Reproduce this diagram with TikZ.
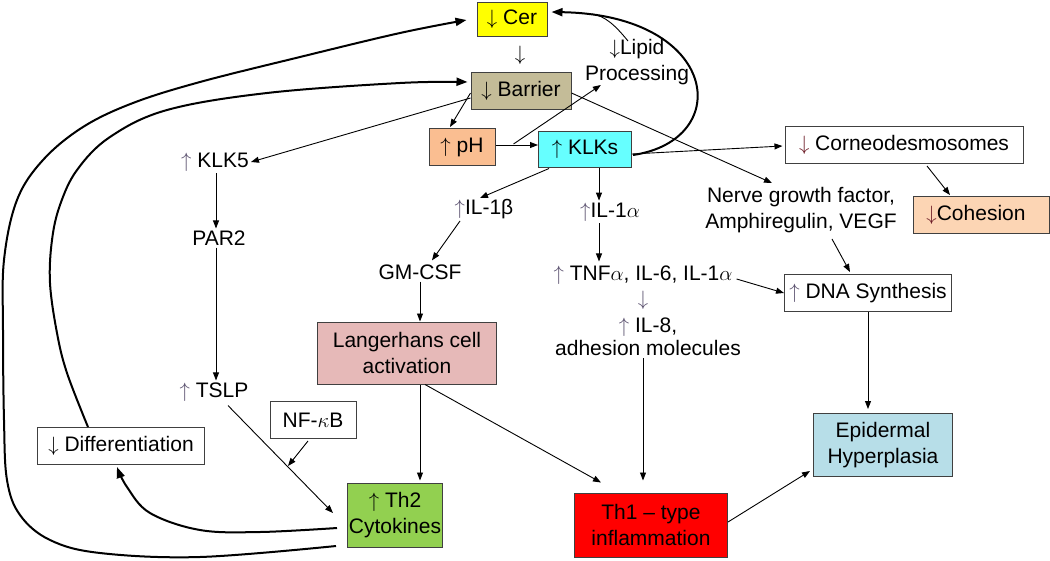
\documentclass[tikz,border=0pt]{standalone}
\usepackage{fontspec}
\setmainfont{Liberation Sans}
\usetikzlibrary{arrows.meta,calc}
\definecolor{cerY}{RGB}{255,255,0}
\definecolor{barT}{RGB}{196,188,152}
\definecolor{phP}{RGB}{250,190,145}
\definecolor{klkC}{RGB}{102,255,255}
\definecolor{cohP}{RGB}{252,213,180}
\definecolor{epiB}{RGB}{183,222,232}
\definecolor{thoneR}{RGB}{255,0,0}
\definecolor{thtwoG}{RGB}{146,208,80}
\definecolor{langP}{RGB}{230,185,184}
\definecolor{darr}{RGB}{110,30,40}
\definecolor{uarr}{RGB}{90,80,110}
\newcommand\myup{\ensuremath{\uparrow}}
\newcommand\mydn{\ensuremath{\downarrow}}
\begin{document}
\begin{tikzpicture}[x=1pt,y=-1pt,font=\fontsize{21}{26}\selectfont,
  box/.style={draw=black!75,line width=1pt,inner sep=0pt,align=center},
  lbl/.style={inner sep=2pt,align=center},
  ar/.style={-{Triangle[length=8pt,width=6pt]},line width=0.9pt},
  thk/.style={-{Triangle[length=11pt,width=8pt]},line width=2pt}]
\useasboundingbox (0,0) rectangle (1050,560);
% boxes
\node[box,fill=cerY,minimum width=70pt,minimum height=34pt] (cer) at (512,19) {\mydn\ Cer};
\node[box,fill=barT,minimum width=100pt,minimum height=37pt] (barrier) at (521,91) {\mydn\ Barrier};
\node[box,fill=phP,minimum width=66pt,minimum height=37pt] (ph) at (462,147) {\myup\ pH};
\node[box,fill=klkC,minimum width=93pt,minimum height=36pt] (klks) at (585,149) {\myup\ KLKs};
\node[box,fill=white,minimum width=238pt,minimum height=37pt] (corneo) at (904,145) {{\color{darr}\mydn} Corneodesmosomes};
\node[box,fill=cohP,minimum width=136pt,minimum height=37pt] (coh) at (981,215) {{\color{darr}\mydn}Cohesion\hspace*{10pt}};
\node[box,fill=white,minimum width=167pt,minimum height=37pt] (dna) at (868,293) {{\color{uarr}\myup} DNA Synthesis};
\node[box,fill=epiB,minimum width=139pt,minimum height=63pt] (epi) at (883,445) {Epidermal\\Hyperplasia};
\node[box,fill=thoneR,minimum width=153pt,minimum height=64pt] (th1) at (651,525) {Th1 – type\\inflammation};
\node[box,fill=thtwoG,minimum width=95pt,minimum height=64pt] (th2) at (395,515) {\myup\ Th2\\Cytokines};
\node[box,fill=white,minimum width=167pt,minimum height=37pt] (diff) at (121,446) {\mydn\ Differentiation};
\node[box,fill=white,minimum width=86pt,minimum height=37pt] (nfkb) at (313,420) {NF-$\kappa$B};
\node[box,fill=langP,minimum width=179pt,minimum height=62pt] (lang) at (407,353) {Langerhans cell\\activation};
% text labels
\node[lbl] (lipid) at (637,62) {\mydn Lipid\\Processing};
\node[lbl] (cdown) at (520,55) {\mydn};
\node[lbl] (klk5) at (215,162) {{\color{uarr}\myup} KLK5};
\node[lbl] (par2) at (219,238) {PAR2};
\node[lbl] (tslp) at (214,392) {{\color{uarr}\myup} TSLP};
\node[lbl] (il1b) at (484,209) {{\color{uarr}\myup}IL-1β};
\node[lbl] (gmcsf) at (420,272) {GM-CSF};
\node[lbl] (il1a) at (610,212) {{\color{uarr}\myup}IL-1$\alpha$};
\node[lbl] (tnf) at (643,275) {{\color{uarr}\myup} TNF$\alpha$, IL-6, IL-1$\alpha$};
\node[lbl] (tdown) at (643,300) {{\color{uarr}\mydn}};
\node[lbl] (il8) at (648,337) {{\color{uarr}\myup} IL-8,\\[-3pt]adhesion molecules};
\node[lbl] (ngf) at (801,210) {Nerve growth factor,\\Amphiregulin, VEGF};
\coordinate (nfend) at (288,466);
\coordinate (lipjoin) at (592,14);
% thin connectors
\draw[ar] ($(barrier.west)+(0,7)$) -- (klk5.east);
\draw[ar] (klk5.south -| 216,0) -- (par2.north -| 216,0);
\draw[ar] (par2.south -| 216,0) -- ($(tslp.north -| 216,0)+(0,0)$);
\draw[ar] ($(tslp.south)+(14,2)$) -- ($(th2.west)+(-14,-2)$);
\draw[ar] ($(nfkb.south)+(-5,2)$) -- (nfend);
\draw[ar] (gmcsf.south) -- (gmcsf.south |- lang.north);
\draw[ar] (lang.south -| gmcsf) -- ($(th2.north -| gmcsf)+(0,-2)$);
\draw[ar] ($(lang.south)+(18,0)$) -- ($(th1.north west)+(27,-10)$);
\draw[ar] (il8.south -| tdown) -- ($(th1.north -| tdown)+(0,-12)$);
\draw[ar] ($(th1.east)+(0,-3)$) -- ($(epi.south west)+(-3,-6)$);
\draw[ar] (dna.south) -- ($(dna.south |- epi.north)+(0,-4)$);
\draw[ar] ($(tnf.east)+(2,4)$) -- (dna.west);
\draw[ar] ($(ngf.south)+(31,4)$) -- ($(dna.north)+(-18,-2)$);
\draw[ar] ($(corneo.south)+(23,2)$) -- ($(coh.north)+(-31,-1)$);
\draw[ar] ($(klks.east)+(0,5)$) -- ($(corneo.west)+(-2,1)$);
\draw[ar] ($(barrier.east)+(0,2)$) -- ($(ngf.north)+(-29,-2)$);
\draw[ar] ($(ph.east)+(0,-2)$) -- ($(ph.east -| klks.west)+(0,-2)$);
\draw[ar] ($(ph.east)+(18,-3)$) -- ($(lipid.south west)+(18,-2)$);
\draw[ar] ($(barrier.west)+(0,2)$) -- ($(ph.north)+(-12,-1)$);
\draw[ar] ($(klks.south west)+(11,1)$) -- ($(il1b.north)+(-4,1)$);
\draw[ar] ($(klks.south)+(14,0)$) -- ($(il1a.north)+(-11,0)$);
\draw[ar] ($(il1a.south)+(-11,0)$) -- ($(tnf.north)+(-44,-2)$);
\draw[ar] ($(il1b.south)+(-24,0)$) -- ($(gmcsf.north)+(12,-2)$);
\draw[line width=0.9pt] ($(lipid.north)+(-9,4)$) .. controls (615,25) and (605,16) .. (lipjoin);
% thick connectors
\draw[thk] ($(klks.east)+(1,6)$) .. controls (735,140) and (720,15) .. ($(cer.east)+(4,-7)$);
\draw[thk] plot[smooth,tension=0.6] coordinates {($(th2.west)+(-11,31)$) (200,557) (100,553) (50,540) (20,515) (7,480) (4,420) (3,330) (4,260) (17,200) (43,160) (83,127) (133,103) (200,82) (300,57) (400,33) ($(cer.west)+(-10,1)$)};
\draw[thk] plot[smooth,tension=0.6] coordinates {($(diff.north west)+(51,0)$) (67,373) (57,333) (50,283) (52,240) (60,205) (77,170) (110,137) (167,110) (267,93) (400,83) ($(barrier.west)+(-3,-9)$)};
\draw[thk] plot[smooth,tension=0.6] coordinates {($(th2.west)+(-10,13)$) (260,532) (200,530) (150,513) (127,487) ($(diff.south west)+(80,2)$)};
\end{tikzpicture}
\end{document}
